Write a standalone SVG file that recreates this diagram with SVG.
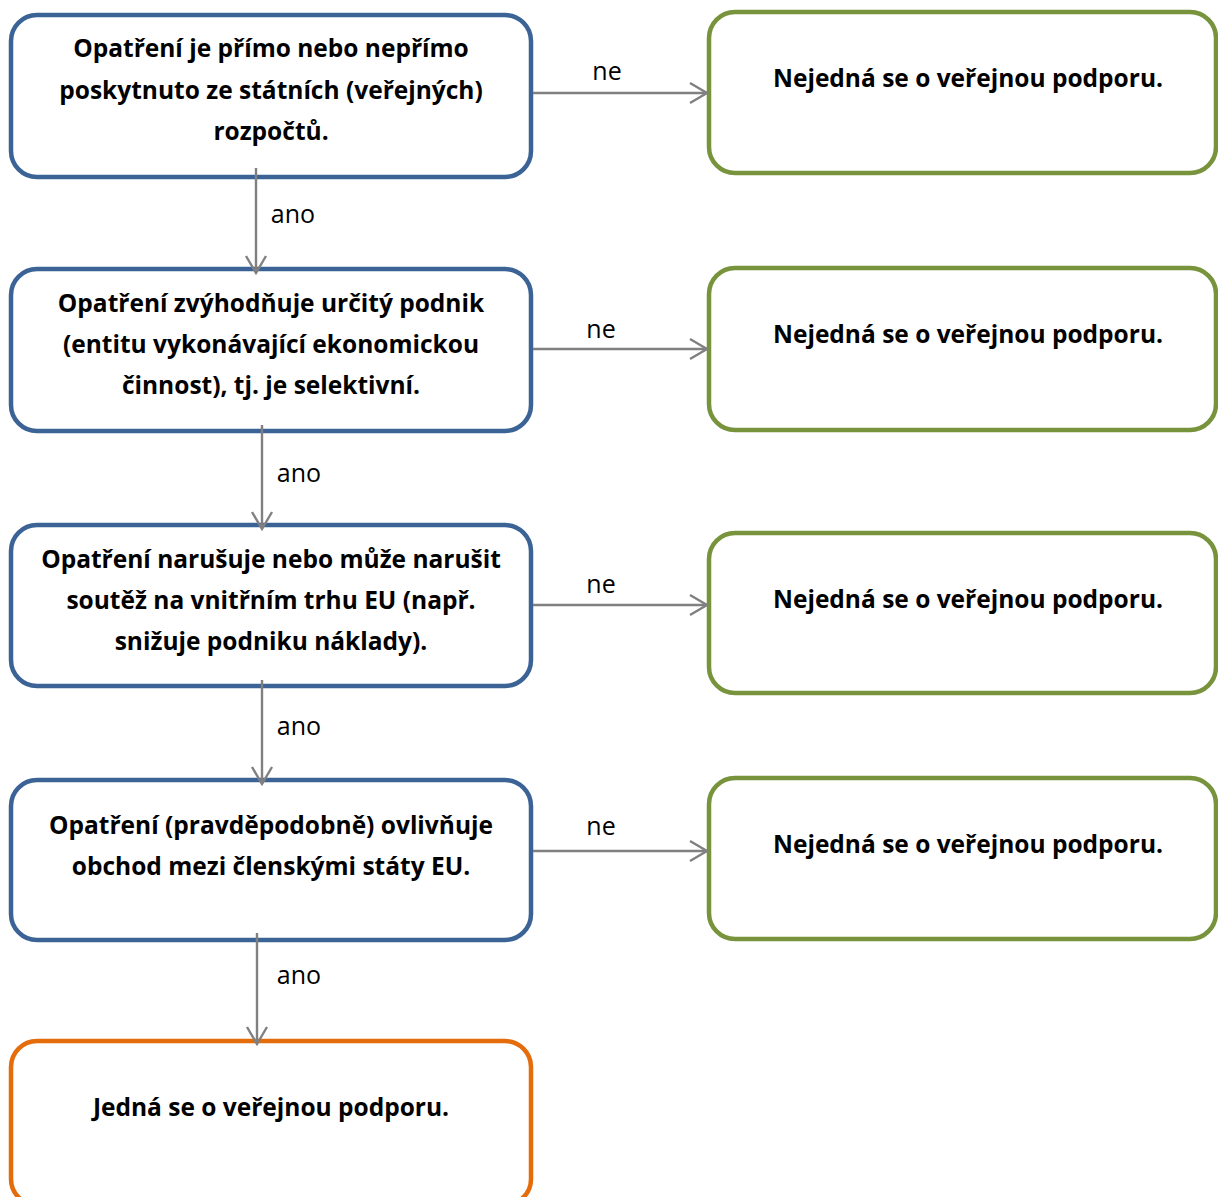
<svg xmlns="http://www.w3.org/2000/svg" width="1218" height="1197" viewBox="0 0 1218 1197">
<defs>
<marker id="arr" markerUnits="userSpaceOnUse" markerWidth="24" markerHeight="24" refX="18" refY="11" orient="auto" overflow="visible">
<path d="M1,1 L18,11 L1,21" fill="none" stroke="#808080" stroke-width="2.4"/>
</marker>
<style>
.q{fill:#fff;stroke:#3B6396;stroke-width:4.5}
.n{fill:#fff;stroke:#77933C;stroke-width:4.5}
.y{fill:#fff;stroke:#E46C0A;stroke-width:4.5}
.t{font-family:"Open Sans","Liberation Sans",sans-serif;font-weight:bold;font-size:24.5px;fill:#000;text-anchor:middle}
.l{font-family:"Open Sans","Liberation Sans",sans-serif;font-size:25px;fill:#000;text-anchor:middle}
.c{stroke:#808080;stroke-width:2.4;fill:none;marker-end:url(#arr)}
</style>
</defs>
<rect width="1218" height="1197" fill="#fff"/>
<g id="q1">
<rect class="q" x="11" y="15" width="520" height="162" rx="26"/>
<text class="t" x="271" y="57">Opatření je přímo nebo nepřímo</text>
<text class="t" x="271" y="99">poskytnuto ze státních (veřejných)</text>
<text class="t" x="271" y="140">rozpočtů.</text>
</g>
<g id="q2">
<rect class="q" x="11" y="269" width="520" height="162" rx="26"/>
<text class="t" x="271" y="312">Opatření zvýhodňuje určitý podnik</text>
<text class="t" x="271" y="353">(entitu vykonávající ekonomickou</text>
<text class="t" x="271" y="394">činnost), tj. je selektivní.</text>
</g>
<g id="q3">
<rect class="q" x="11" y="525" width="520" height="161" rx="26"/>
<text class="t" x="271" y="568">Opatření narušuje nebo může narušit</text>
<text class="t" x="271" y="609">soutěž na vnitřním trhu EU (např.</text>
<text class="t" x="271" y="650">snižuje podniku náklady).</text>
</g>
<g id="q4">
<rect class="q" x="11" y="780" width="520" height="160" rx="26"/>
<text class="t" x="271" y="834">Opatření (pravděpodobně) ovlivňuje</text>
<text class="t" x="271" y="875">obchod mezi členskými státy EU.</text>
</g>
<g id="yes">
<rect class="y" x="11" y="1041" width="520" height="164" rx="26"/>
<text class="t" x="271" y="1116">Jedná se o veřejnou podporu.</text>
</g>
<g id="no1">
<rect class="n" x="709" y="12" width="507" height="161" rx="26"/>
<text class="t" x="968" y="87">Nejedná se o veřejnou podporu.</text>
</g>
<g id="no2">
<rect class="n" x="709" y="268" width="507" height="162" rx="26"/>
<text class="t" x="968" y="343">Nejedná se o veřejnou podporu.</text>
</g>
<g id="no3">
<rect class="n" x="709" y="533" width="507" height="160" rx="26"/>
<text class="t" x="968" y="608">Nejedná se o veřejnou podporu.</text>
</g>
<g id="no4">
<rect class="n" x="709" y="778" width="507" height="161" rx="26"/>
<text class="t" x="968" y="853">Nejedná se o veřejnou podporu.</text>
</g>
<g id="connectors">
<line class="c" x1="256" y1="168" x2="256" y2="273"/>
<line class="c" x1="262" y1="425" x2="262" y2="529"/>
<line class="c" x1="262" y1="680" x2="262" y2="784"/>
<line class="c" x1="257" y1="933" x2="257" y2="1044"/>
<line class="c" x1="533" y1="93" x2="707" y2="93"/>
<line class="c" x1="533" y1="349" x2="707" y2="349"/>
<line class="c" x1="533" y1="605" x2="707" y2="605"/>
<line class="c" x1="533" y1="851" x2="707" y2="851"/>
<text class="l" x="293" y="223">ano</text>
<text class="l" x="299" y="482">ano</text>
<text class="l" x="299" y="735">ano</text>
<text class="l" x="299" y="984">ano</text>
<text class="l" x="607" y="80">ne</text>
<text class="l" x="601" y="338">ne</text>
<text class="l" x="601" y="593">ne</text>
<text class="l" x="601" y="835">ne</text>
</g>
</svg>
